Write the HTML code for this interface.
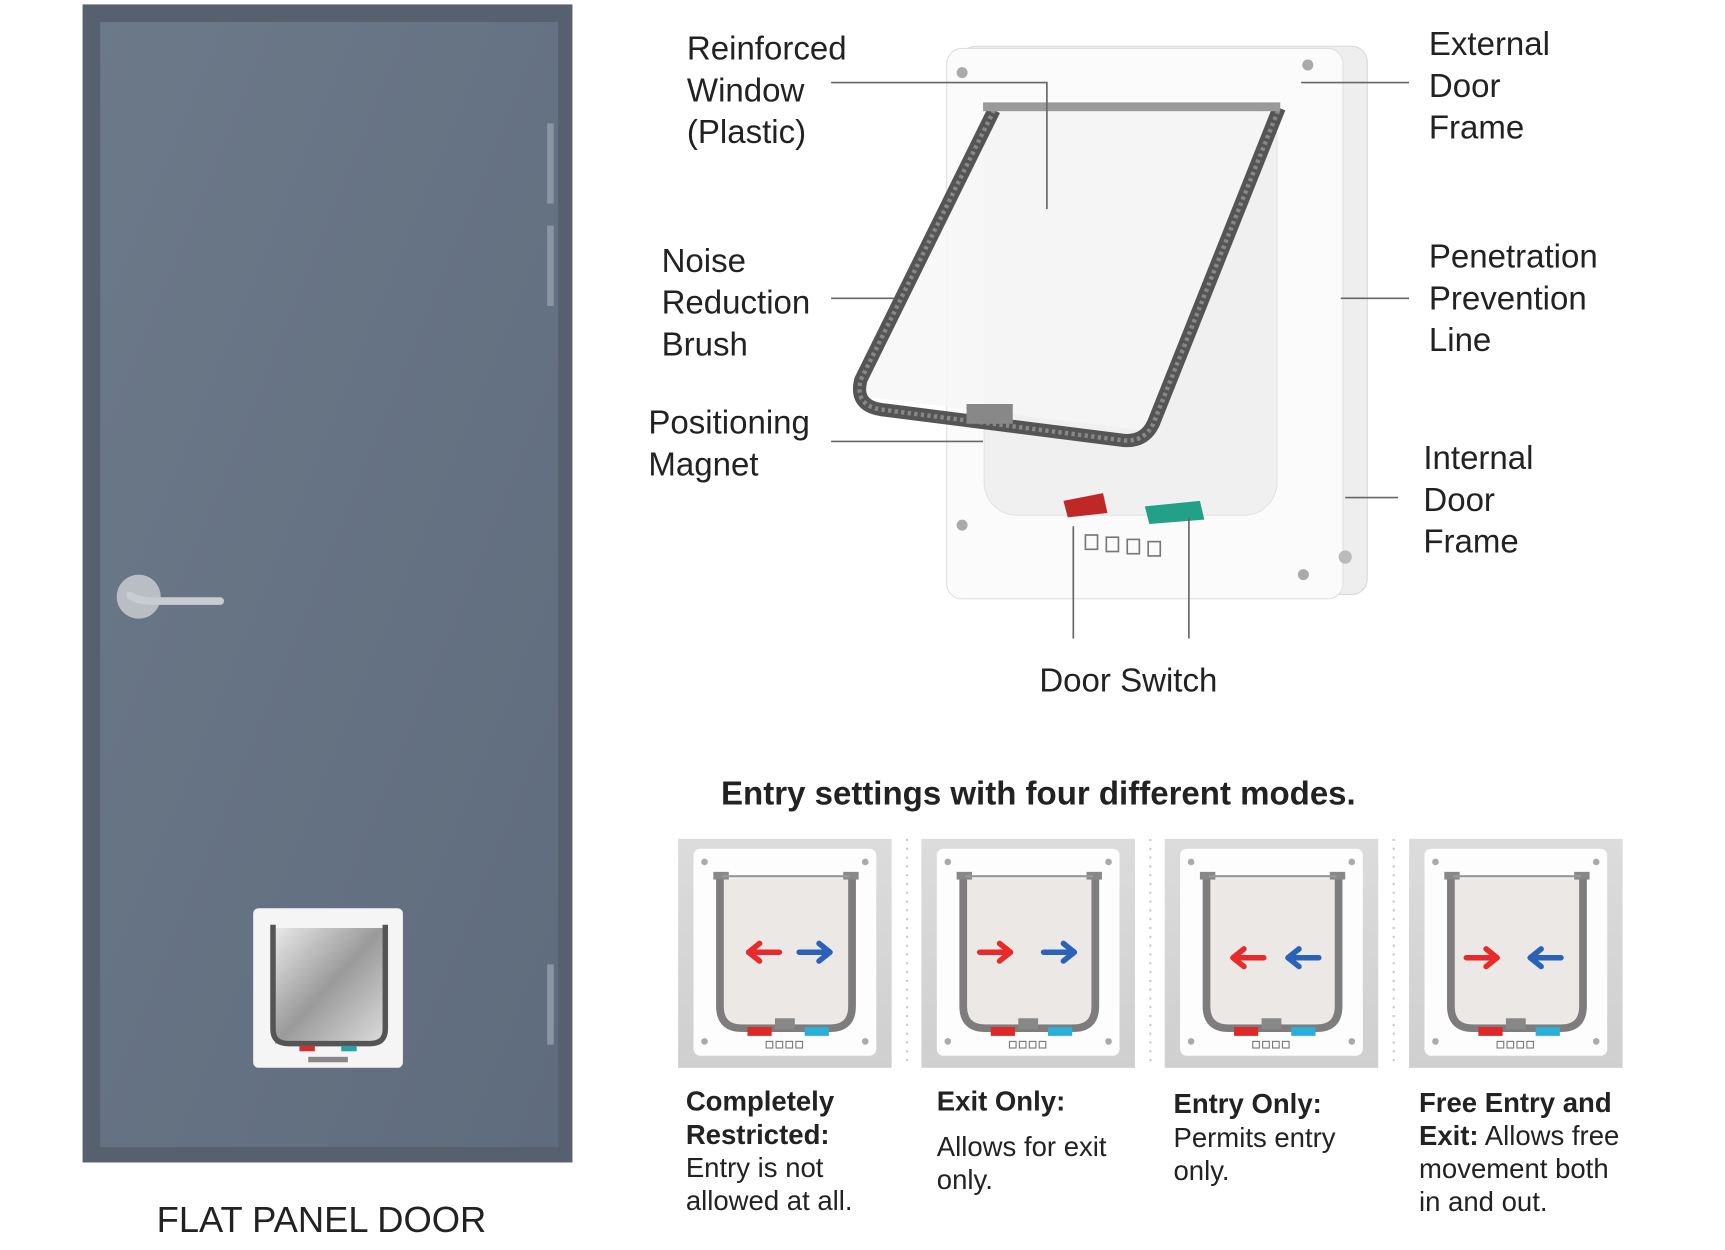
<!DOCTYPE html>
<html><head><meta charset="utf-8"><style>
html,body{margin:0;padding:0;background:#fff;}
svg{display:block;}
text{font-family:"Liberation Sans",Arial,sans-serif;fill:#222;}
</style></head><body>
<svg width="1725" height="1250" viewBox="0 0 1567 1135.5" xmlns="http://www.w3.org/2000/svg">
<defs>
<linearGradient id="dg" x1="0" y1="0" x2="1" y2="1">
<stop offset="0" stop-color="#6c7989"/><stop offset="1" stop-color="#5f6c7d"/></linearGradient>
<linearGradient id="pg" x1="0" y1="0" x2="0" y2="1">
<stop offset="0" stop-color="#dcdcdc"/><stop offset="1" stop-color="#cfcfcf"/></linearGradient>
<linearGradient id="sg" x1="0" y1="0" x2="1" y2="1">
<stop offset="0" stop-color="#e8e8e8"/><stop offset="0.5" stop-color="#9a9a9a"/><stop offset="1" stop-color="#dcdcdc"/></linearGradient>
<g id="mini">
<rect x="0" y="0" width="194" height="208" fill="url(#pg)"/>
<rect x="14" y="9" width="166" height="188" rx="6" fill="#fdfdfd"/>
<circle cx="24" cy="21" r="3" fill="#aaa"/><circle cx="170" cy="21" r="3" fill="#aaa"/>
<circle cx="24" cy="184" r="3" fill="#aaa"/><circle cx="170" cy="184" r="3" fill="#aaa"/>
<rect x="40" y="36" width="118" height="132" fill="#ebe8e6"/>
<path d="M38 33 V152 Q38 172 58 172 H138 Q158 172 158 152 V33" fill="none" stroke="#7e7c7c" stroke-width="7"/>
<rect x="32" y="30" width="14" height="7" fill="#888"/><rect x="150" y="30" width="14" height="7" fill="#888"/>
<line x1="40" y1="34" x2="156" y2="34" stroke="#999" stroke-width="2"/>
<rect x="88" y="163" width="18" height="10" fill="#888"/>
<rect x="63" y="171" width="22" height="8" fill="#e02828"/>
<rect x="115" y="171" width="22" height="8" fill="#2ab0d8"/>
<g fill="none" stroke="#777" stroke-width="1"><rect x="80" y="184" width="6" height="6"/><rect x="89" y="184" width="6" height="6"/><rect x="98" y="184" width="6" height="6"/><rect x="107" y="184" width="6" height="6"/></g>
</g>
<g id="ar"><path d="M0 0 H26 M18 -8 L28 0 L18 8" fill="none" stroke-width="5" stroke-linecap="round" stroke-linejoin="round"/></g>
</defs>

<rect x="75" y="4" width="445" height="1052" fill="#56606f"/>
<rect x="91" y="20" width="416" height="1022" fill="url(#dg)"/>
<rect x="497" y="112" width="6" height="73" fill="#8b95a2"/>
<rect x="497" y="205" width="6" height="73" fill="#8b95a2"/>
<rect x="497" y="876" width="6" height="73" fill="#8b95a2"/>
<circle cx="126" cy="542" r="20" fill="#b9bec4"/>
<path d="M118 541 Q126 546 140 546 H200" stroke="#c8ccd0" stroke-width="7" fill="none" stroke-linecap="round"/>
<rect x="230" y="825" width="136" height="145" rx="5" fill="#f5f5f5"/>
<rect x="250" y="843" width="98" height="105" fill="url(#sg)"/>
<path d="M248 840 V935 Q248 948 262 948 H336 Q350 948 350 935 V840" fill="none" stroke="#555" stroke-width="5"/>
<rect x="272" y="950" width="14" height="5" fill="#d03030"/><rect x="310" y="950" width="14" height="5" fill="#2aa0a0"/>
<rect x="280" y="960" width="36" height="5" fill="#888"/>
<text x="292" y="1119" font-size="33" text-anchor="middle" fill="#444">FLAT PANEL DOOR</text>

<rect x="872" y="42" width="370" height="498" rx="14" fill="#eeeeee" stroke="#d8d8d8"/>
<rect x="860" y="44" width="360" height="500" rx="14" fill="#fbfbfb" stroke="#e0e0e0"/>
<rect x="894" y="96" width="266" height="372" rx="30" fill="#f0f0f0" stroke="#e3e3e3"/>
<circle cx="874" cy="66" r="5" fill="#aaa"/><circle cx="1188" cy="59" r="5" fill="#aaa"/>
<circle cx="874" cy="477" r="5" fill="#aaa"/><circle cx="1184" cy="522" r="5" fill="#aaa"/>
<circle cx="1222" cy="506" r="6" fill="#bbb"/>
<path d="M900 98 L1160 96 L1048 392 L782 360 Z" fill="#f6f6f6" opacity="0.8"/>
<path d="M903 100 L782 345 Q776 368 800 372 L1020 400 Q1040 402 1048 384 L1162 98" fill="none" stroke="#555" stroke-width="12" stroke-linejoin="round"/>
<path d="M903 100 L782 345 Q776 368 800 372 L1020 400 Q1040 402 1048 384 L1162 98" fill="none" stroke="#888" stroke-width="4" stroke-dasharray="3 3"/>
<rect x="893" y="93" width="270" height="8" fill="#9a9a9a"/>
<rect x="878" y="367" width="42" height="18" fill="#888"/>
<path d="M966 455 L1002 448 L1006 466 L970 470 Z" fill="#c02828"/>
<path d="M1040 460 L1090 455 L1094 472 L1044 476 Z" fill="#22a088"/>
<g fill="none" stroke="#777" stroke-width="1.5"><rect x="986" y="486" width="11" height="13"/><rect x="1005" y="488" width="11" height="13"/><rect x="1024" y="490" width="11" height="13"/><rect x="1043" y="492" width="11" height="13"/></g>

<g stroke="#666" stroke-width="1.5" fill="none">
<path d="M755 75 H951 V190"/>
<path d="M755 271 H812"/>
<path d="M755 401 H893"/>
<path d="M1182 75 H1280"/>
<path d="M1218 271 H1280"/>
<path d="M1222 452 H1270"/>
<path d="M975 478 V580"/>
<path d="M1080 470 V580"/>
</g>

<g font-size="30">
<text x="624" y="54">Reinforced</text><text x="624" y="92">Window</text><text x="624" y="130">(Plastic)</text>
<text x="601" y="247">Noise</text><text x="601" y="285">Reduction</text><text x="601" y="323">Brush</text>
<text x="589" y="394">Positioning</text><text x="589" y="432">Magnet</text>
<text x="1298" y="50">External</text><text x="1298" y="88">Door</text><text x="1298" y="126">Frame</text>
<text x="1298" y="243">Penetration</text><text x="1298" y="281">Prevention</text><text x="1298" y="319">Line</text>
<text x="1293" y="426">Internal</text><text x="1293" y="464">Door</text><text x="1293" y="502">Frame</text>
<text x="1025" y="628" text-anchor="middle">Door Switch</text>
</g>

<text x="655" y="731" font-size="30" font-weight="bold" fill="#1a1a1a">Entry settings with four different modes.</text>

<use href="#mini" x="616" y="762"/>
<use href="#mini" x="837" y="762"/>
<use href="#mini" x="1058" y="762"/>
<use href="#mini" x="1280" y="762"/>
<g stroke="#ccc" stroke-width="2" stroke-dasharray="2 6">
<line x1="824" y1="762" x2="824" y2="970"/><line x1="1045" y1="762" x2="1045" y2="970"/><line x1="1266" y1="762" x2="1266" y2="970"/></g>

<g transform="translate(708,865) scale(-1,1)" stroke="#e82a2a"><use href="#ar"/></g>
<g transform="translate(726,865)" stroke="#2a62b8"><use href="#ar"/></g>
<g transform="translate(890,865)" stroke="#e82a2a"><use href="#ar"/></g>
<g transform="translate(948,865)" stroke="#2a62b8"><use href="#ar"/></g>
<g transform="translate(1148,870) scale(-1,1)" stroke="#e82a2a"><use href="#ar"/></g>
<g transform="translate(1198,870) scale(-1,1)" stroke="#2a62b8"><use href="#ar"/></g>
<g transform="translate(1332,870)" stroke="#e82a2a"><use href="#ar"/></g>
<g transform="translate(1418,870) scale(-1,1)" stroke="#2a62b8"><use href="#ar"/></g>

<g font-size="25" fill="#222">
<text x="623" y="1009" font-weight="bold">Completely</text>
<text x="623" y="1039" font-weight="bold">Restricted:</text>
<text x="623" y="1069">Entry is not</text>
<text x="623" y="1099">allowed at all.</text>
<text x="851" y="1009" font-weight="bold">Exit Only:</text>
<text x="851" y="1050">Allows for exit</text>
<text x="851" y="1080">only.</text>
<text x="1066" y="1011" font-weight="bold">Entry Only:</text>
<text x="1066" y="1042">Permits entry</text>
<text x="1066" y="1072">only.</text>
<text x="1289" y="1010"><tspan font-weight="bold">Free Entry and</tspan></text>
<text x="1289" y="1040"><tspan font-weight="bold">Exit:</tspan> Allows free</text>
<text x="1289" y="1070">movement both</text>
<text x="1289" y="1100">in and out.</text>
</g>
</svg>
</body></html>
